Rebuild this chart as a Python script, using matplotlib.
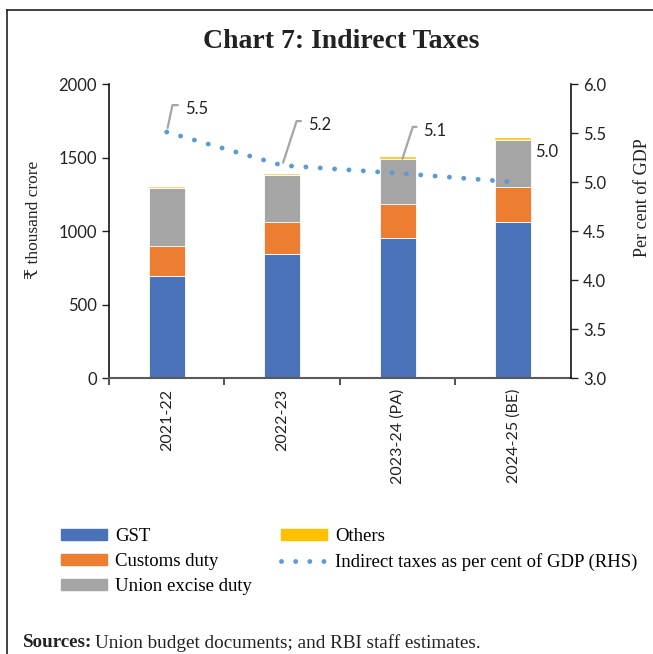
import numpy as np
import matplotlib
matplotlib.use('Agg')
import matplotlib.pyplot as plt
from matplotlib.patches import Patch
from matplotlib.lines import Line2D

years = ['2021-22', '2022-23', '2023-24 (PA)', '2024-25 (BE)']
gst = [696, 846, 954, 1062]
customs = [200, 213, 233, 236]
excise = [397, 320, 305, 321]
others = [8, 12, 15, 12]
pct_gdp = [5.51, 5.17, 5.09, 5.0]
pct_labels = ['5.5', '5.2', '5.1', '5.0']

blue = '#4A72B8'
orange = '#ED7D31'
grey = '#A5A5A5'
yellow = '#FFC000'
dotblue = '#5B9BD5'

serif = ['Liberation Serif', 'DejaVu Serif']
sans = ['Lato', 'DejaVu Sans']

fig = plt.figure(figsize=(6.53, 6.54), dpi=100)
ax = fig.add_axes([0.1669, 0.422, 0.7075, 0.4495])
ax2 = ax.twinx()

x = np.arange(len(years))
w = 0.31
b1 = np.array(gst)
b2 = b1 + np.array(customs)
b3 = b2 + np.array(excise)
ax.bar(x, gst, w, color=blue, edgecolor='white', linewidth=0.6, zorder=2)
ax.bar(x, customs, w, bottom=b1, color=orange, edgecolor='white', linewidth=0.6, zorder=2)
ax.bar(x, excise, w, bottom=b2, color=grey, edgecolor='white', linewidth=0.6, zorder=2)
ax.bar(x, others, w, bottom=b3, color=yellow, edgecolor='white', linewidth=0.3, zorder=2)

ax.set_xlim(-0.5, 3.5)
ax.set_ylim(0, 2000)
ax.set_yticks([0, 500, 1000, 1500, 2000])
ax.set_xticks(x)
ax.set_xticklabels(years, rotation=90, fontsize=11.5, family=sans, color='#222222')
ax.set_xticks([-0.5, 0.5, 1.5, 2.5], minor=True)
ax.tick_params(axis='x', which='major', length=0, pad=8)
ax.tick_params(axis='x', which='minor', length=5, width=1.2, direction='out', color='#333333')
ax.tick_params(axis='y', length=5, width=1, direction='out', labelsize=12, colors='#222222')
for t in ax.get_yticklabels():
    t.set_family(sans)
ax.spines['top'].set_visible(False)
ax.spines['right'].set_visible(False)
ax.spines['bottom'].set_color('#595959')
ax.spines['bottom'].set_linewidth(1.5)
ax.spines['left'].set_linewidth(1.1)
ax.set_ylabel('₹ thousand crore', fontsize=12.5, family=serif, color='#222222')
ax.yaxis.set_label_coords(-0.145, 0.537)

ax2.plot(x, pct_gdp, color=dotblue, linewidth=3.5, linestyle=(0, (0.01, 2.95)),
         dash_capstyle='round', zorder=3)
ax2.set_ylim(3.0, 6.0)
ax2.set_yticks(np.arange(3.0, 6.01, 0.5))
ax2.set_yticklabels([f'{v:.1f}' for v in np.arange(3.0, 6.01, 0.5)], family=sans)
ax2.tick_params(axis='y', length=5, width=1, direction='out', labelsize=12, colors='#222222')
ax2.spines['top'].set_visible(False)
ax2.spines['left'].set_visible(False)
ax2.spines['bottom'].set_visible(False)
ax2.spines['right'].set_linewidth(1.1)
ax2.set_ylabel('Per cent of GDP', fontsize=13, family=serif, color='#222222')
ax2.yaxis.set_label_coords(1.136, 0.614)

# data labels with leader lines (offsets in points)
offs = [(13, 16.5), (18.5, 29), (18.5, 30.5), (16, 21.5)]
angs = [78, 72, 72, None]
shr = [3, 2, 11, 0]
for i, v in enumerate(pct_gdp):
    dx, dy = offs[i]
    if angs[i] is None:
        ax2.annotate(pct_labels[i], xy=(i, v), xytext=(dx, dy), textcoords='offset points',
                     ha='left', va='center', fontsize=12, family=sans, color='#222222')
    else:
        ax2.annotate(pct_labels[i], xy=(i, v), xytext=(dx, dy), textcoords='offset points',
                     ha='left', va='center', fontsize=12, family=sans, color='#222222',
                     arrowprops=dict(arrowstyle='-', color=grey, lw=1.6,
                                     connectionstyle=f'angle,angleA=180,angleB={angs[i]},rad=0',
                                     relpos=(0, 0.75), shrinkA=3, shrinkB=shr[i]))

fig.text(0.523, 0.937, 'Chart 7: Indirect Taxes', ha='center', va='center',
         fontsize=20, fontweight='bold', family=serif, color='#222222')

handles = [Patch(color=blue), Patch(color=orange), Patch(color=grey), Patch(color=yellow),
           Line2D([], [], color=dotblue, linewidth=3.5, linestyle=(0, (0.01, 2.9)), dash_capstyle='round')]
labels = ['GST', 'Customs duty', 'Union excise duty', 'Others',
          'Indirect taxes as per cent of GDP (RHS)']
fig.legend(handles, labels, ncol=2, loc='upper left', bbox_to_anchor=(0.082, 0.204),
           frameon=False, prop={'family': serif, 'size': 13.5}, handlelength=2.45,
           handleheight=0.46, labelspacing=0.43, columnspacing=1.55, handletextpad=0.43,
           borderaxespad=0)

fig.text(0.035, 0.017, 'Sources:', fontsize=13.7, fontweight='bold', family=serif,
         color='#222222', va='center')
fig.text(0.1455, 0.017, 'Union budget documents; and RBI staff estimates.', fontsize=13.8,
         family=serif, color='#222222', va='center')

# outer frame (top and left edges)
fig.add_artist(Line2D([0.011, 1.0], [0.984, 0.984], color='#222222', lw=1.2, transform=fig.transFigure))
fig.add_artist(Line2D([0.011, 0.011], [0.0, 0.984], color='#222222', lw=1.2, transform=fig.transFigure))

fig.savefig('out.png', dpi=100)
